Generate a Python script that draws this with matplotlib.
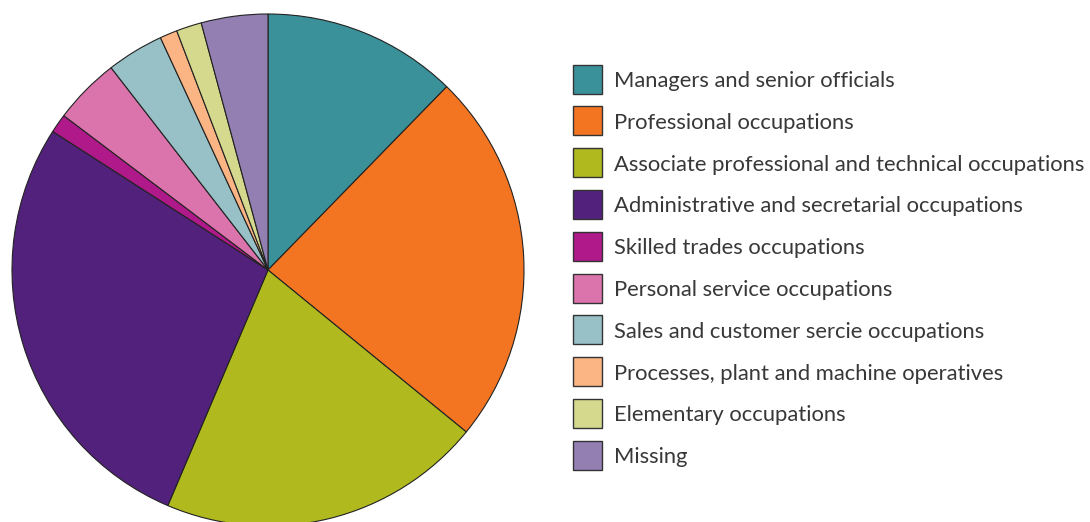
import matplotlib
matplotlib.use("Agg")
import matplotlib.pyplot as plt
from matplotlib.patches import Rectangle

# occupation shares (%), clockwise from 12 o'clock
labels = [
    "Managers and senior officials",
    "Professional occupations",
    "Associate professional and technical occupations",
    "Administrative and secretarial occupations",
    "Skilled trades occupations",
    "Personal service occupations",
    "Sales and customer sercie occupations",
    "Processes, plant and machine operatives",
    "Elementary occupations",
    "Missing",
]
shares = [12.3, 23.6, 20.5, 27.7, 1.2, 4.2, 3.6, 1.1, 1.6, 4.2]
colors = ["#3a9199", "#f47521", "#b0ba1f", "#52217c", "#b0198a",
          "#db74ac", "#97c1c6", "#fbb584", "#d4d98e", "#937fb2"]

W, H = 1090, 522
fig = plt.figure(figsize=(W / 100, H / 100), dpi=100)

# pie centre (268, 270) px, radius 256 px
cx, cy, r = 268, 270, 256
ax = fig.add_axes([(cx - r) / W, (H - cy - r) / H, 2 * r / W, 2 * r / H])
wedges, _ = ax.pie(shares, colors=colors, startangle=90, counterclock=False,
                   radius=1, wedgeprops=dict(edgecolor="#222222", linewidth=0.8))
ax.set_xlim(-1, 1)
ax.set_ylim(-1, 1)
ax.set_aspect("equal")
ax.axis("off")

# legend drawn by hand so the row pitch matches the original
box = 29
row0, pitch = 79, 41.8
for i, (lab, col) in enumerate(zip(labels, colors)):
    yc = row0 + pitch * i
    fig.add_artist(Rectangle((573 / W, 1 - (yc + box / 2) / H), box / W, box / H,
                             transform=fig.transFigure, facecolor=col,
                             edgecolor="#333333", linewidth=1.0))
    fig.text(614 / W, 1 - yc / H, lab, family="Lato", fontsize=15.8,
             color="#383838", va="center_baseline", ha="left")

fig.savefig("out.png", dpi=100)
